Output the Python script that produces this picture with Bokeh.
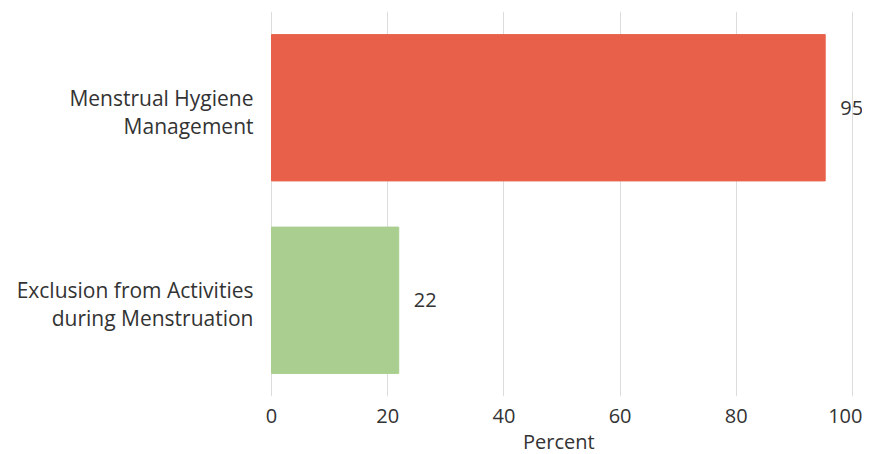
from bokeh.plotting import figure
from bokeh.models import ColumnDataSource, Range1d, FactorRange, FixedTicker, Title
from bokeh.core.properties import value
from bokeh.embed import file_html
from bokeh.resources import INLINE

categories = ["Exclusion from Activities during Menstruation", "Menstrual Hygiene Management"]
cat_line1 = ["Exclusion from Activities", "Menstrual Hygiene"]
cat_line2 = ["during Menstruation", "Management"]
values = [21.9, 95.3]
value_labels = ["22", "95"]
colors = ["#A9CE8F", "#E8604A"]
x_ticks = [0, 20, 40, 60, 80, 100]
x_title = "Percent"

FONT = "Open Sans"
TXT = "#333333"

W = 862
LEFT, TOP, FH = 271, 11, 385
PX_PER_UNIT = 5.81
x_start = -LEFT / PX_PER_UNIT
x_end = (W - LEFT) / PX_PER_UNIT

src = ColumnDataSource(dict(cat=categories, val=values, lab=value_labels, col=colors,
                            l1=cat_line1, l2=cat_line2))

p = figure(y_range=FactorRange(factors=categories), x_range=Range1d(x_start, x_end),
           output_backend="svg", toolbar_location=None,
           frame_width=W, frame_height=FH,
           min_border_left=0, min_border_right=0, min_border_top=TOP,
           min_border_bottom=0)
p.hbar(y="cat", right="val", left=0, height=0.76, color="col", source=src)
p.text(x="val", y="cat", text="lab", source=src, x_offset=15, text_align="left",
       text_baseline="middle", text_font=value(FONT), text_font_size="20px", text_color=TXT)

# two-line category labels left of the bars
p.text(x=0, y="cat", text="l1", source=src, x_offset=-18, y_offset=-10,
       text_align="right", text_baseline="middle", text_font=value(FONT),
       text_font_size="21px", text_color=TXT)
p.text(x=0, y="cat", text="l2", source=src, x_offset=-18, y_offset=18,
       text_align="right", text_baseline="middle", text_font=value(FONT),
       text_font_size="21px", text_color=TXT)

p.outline_line_color = None
p.ygrid.grid_line_color = None
p.xgrid.grid_line_color = "#DDDDDD"
p.xgrid.ticker = FixedTicker(ticks=x_ticks)
p.xaxis.ticker = FixedTicker(ticks=x_ticks)
p.yaxis.visible = False
ax = p.xaxis[0]
ax.axis_line_color = None
ax.major_tick_line_color = None
ax.minor_tick_line_color = None
ax.major_tick_out = 0
ax.major_label_text_font = FONT
ax.major_label_text_color = TXT
ax.major_label_text_font_size = "20px"
ax.major_label_standoff = 12

p.add_layout(Title(text=x_title, align="left", offset=LEFT + 50 * PX_PER_UNIT - 39,
                   standoff=0, text_font=FONT, text_font_style="normal",
                   text_font_size="20px", text_color=TXT), "below")

open("out.html", "w").write(file_html(p, INLINE))
